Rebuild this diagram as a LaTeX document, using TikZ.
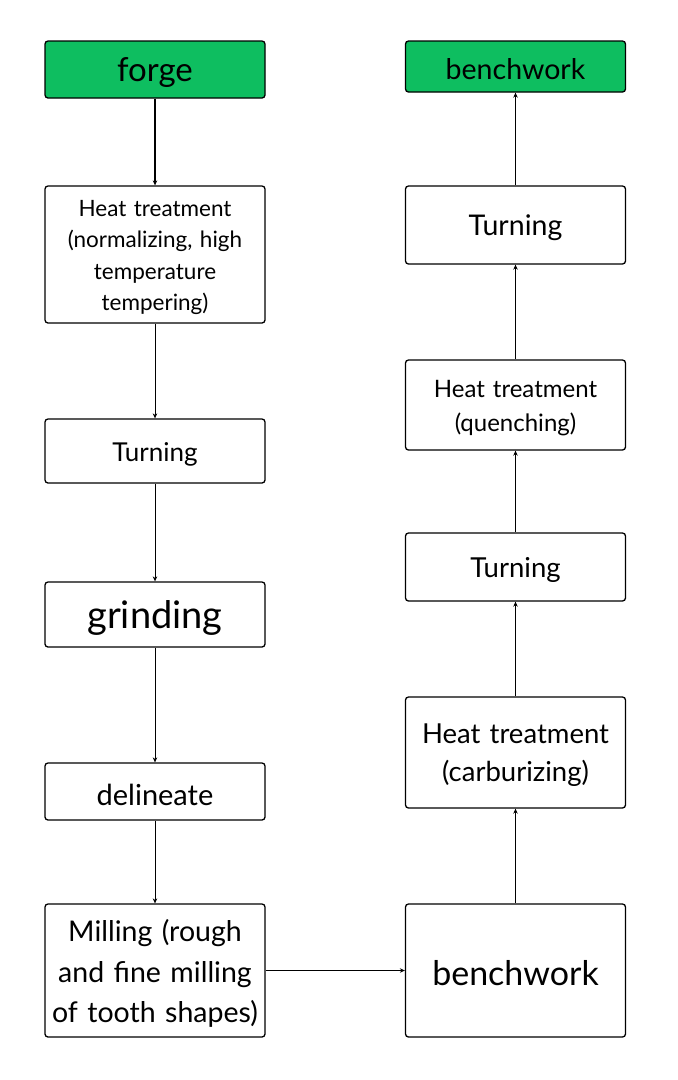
\documentclass[tikz,border=0pt]{standalone}
\usepackage{fontspec}
\setmainfont{Lato}
\usetikzlibrary{arrows.meta}
\definecolor{boxgreen}{RGB}{14,190,96}
\tikzset{
  x=1pt,y=-1pt,
  box/.style={draw=black, line width=1.3pt, rounded corners=3pt, fill=white, minimum width=220pt, inner sep=0pt},
  gbox/.style={box, fill=boxgreen},
  txt/.style={text width=216pt, align=center, inner sep=0pt, yshift=-3pt},
  arr/.style={draw=black, line width=0.9pt, -{Stealth[length=5pt,width=4.5pt]}},
  fs/.style n args={2}{font=\fontsize{#1}{#2}\selectfont}
}
\begin{document}
\begin{tikzpicture}
\useasboundingbox (0,0) rectangle (678,1080);
% left column
\node[gbox, minimum height=57pt] (forge) at (155,69.5) {};
\node[txt, fs={33}{38}] (forge-t) at (forge.center) {forge};
\node[box, minimum height=137pt] (heat1) at (155,254.5) {};
\node[txt, fs={22.5}{31.5}] (heat1-t) at (heat1.center) {Heat treatment\\(normalizing, high\\temperature\\tempering)};
\node[box, minimum height=64pt] (turn1) at (155,451) {};
\node[txt, fs={26}{30}] (turn1-t) at (turn1.center) {Turning};
\node[box, minimum height=65pt] (grind) at (155,614.5) {};
\node[txt, fs={38}{44}] (grind-t) at (grind.center) {grinding};
\node[box, minimum height=57pt] (delin) at (155,791.5) {};
\node[txt, fs={29}{34}] (delin-t) at (delin.center) {delineate};
\node[box, minimum height=133pt] (mill) at (155,970.5) {};
\node[txt, fs={28.5}{40.5}] (mill-t) at (mill.center) {Milling (rough\\and fine milling\\of tooth shapes)};
% right column
\node[box, minimum height=133pt] (bench2) at (515.5,970.5) {};
\node[txt, fs={34}{40}] (bench2-t) at (bench2.center) {benchwork};
\node[box, minimum height=111pt] (heat3) at (515.5,752.5) {};
\node[txt, fs={27.5}{38}] (heat3-t) at (heat3.center) {Heat treatment\\(carburizing)};
\node[box, minimum height=68pt] (turn3) at (515.5,567) {};
\node[txt, fs={27.5}{32}] (turn3-t) at (turn3.center) {Turning};
\node[box, minimum height=90pt] (heat2) at (515.5,405) {};
\node[txt, fs={24}{34}] (heat2-t) at (heat2.center) {Heat treatment\\(quenching)};
\node[box, minimum height=78pt] (turn2) at (515.5,225) {};
\node[txt, fs={28.5}{34}] (turn2-t) at (turn2.center) {Turning};
\node[gbox, minimum height=51pt] (bench1) at (515.5,66.5) {};
\node[txt, fs={28.5}{34}] (bench1-t) at (bench1.center) {benchwork};
% connectors
\draw[arr, line width=1.4pt] (forge) -- (heat1);
\draw[arr] (heat1) -- (turn1);
\draw[arr] (turn1) -- (grind);
\draw[arr] (grind) -- (delin);
\draw[arr] (delin) -- (mill);
\draw[arr] (mill) -- (bench2);
\draw[arr] (bench2) -- (heat3);
\draw[arr] (heat3) -- (turn3);
\draw[arr] (turn3) -- (heat2);
\draw[arr] (heat2) -- (turn2);
\draw[arr] (turn2) -- (bench1);
\end{tikzpicture}
\end{document}
